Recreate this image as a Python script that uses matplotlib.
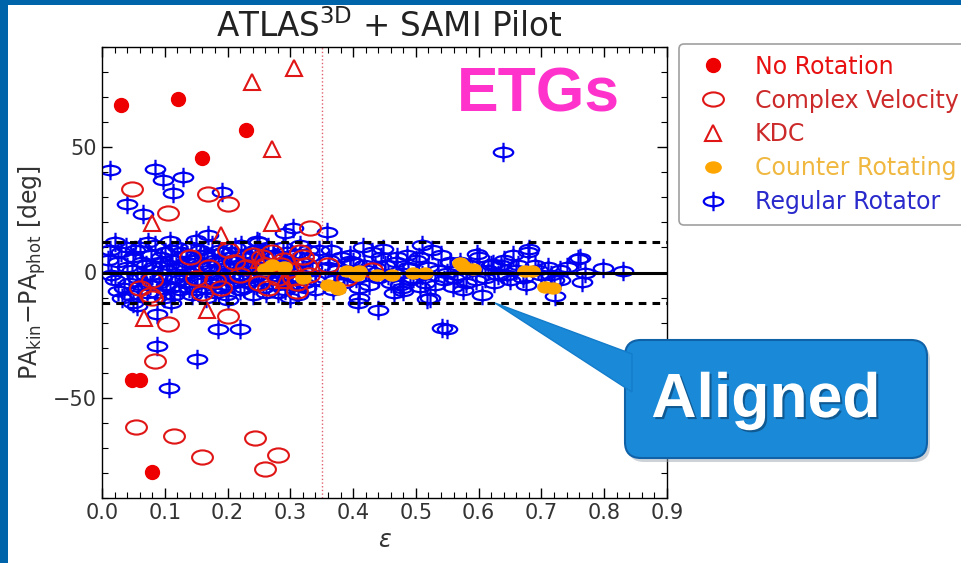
import matplotlib
matplotlib.use("Agg")
import matplotlib.pyplot as plt
import numpy as np
from matplotlib.path import Path
from matplotlib.patches import FancyBboxPatch, Polygon, Rectangle
from matplotlib.transforms import IdentityTransform
import matplotlib.patheffects as pe

# ---------------- data ----------------
norot_e = [0.030, 0.121, 0.229, 0.159, 0.047, 0.061, 0.079]
norot_d = [66.7, 69.4, 56.7, 45.6, -42.8, -43.0, -79.5]

cv_e = [0.048, 0.105, 0.169, 0.201, 0.331, 0.076, 0.084, 0.105, 0.201, 0.310,
        0.054, 0.115, 0.159, 0.243, 0.281, 0.260,
        0.08, 0.15, 0.17, 0.19, 0.21, 0.22, 0.24, 0.25, 0.26, 0.27,
        0.28, 0.29, 0.30, 0.31, 0.32, 0.33, 0.36, 0.39, 0.43, 0.08, 0.06,
        0.14, 0.18, 0.23, 0.255, 0.265, 0.285, 0.305, 0.315, 0.325, 0.20, 0.16]
cv_d = [33.4, 23.8, 31.3, 27.4, 17.9, -8.9, -35.3, -20.6, -17.2, -7.5,
        -61.8, -65.1, -73.7, -65.9, -72.8, -78.3,
        -3, -2, 2, -6, 4, -1, 7, -4, 3, 8,
        -2, 5, 1, -4, 6, -1, 3, -2, 1, -10, -6,
        6, -3, 2, 6, -6, 3, -2, 8, 3, 9, -8]

kdc_e = [0.239, 0.306, 0.270, 0.079, 0.270, 0.189, 0.067, 0.167, 0.25, 0.29]
kdc_d = [76.2, 81.7, 49.4, 19.8, 19.8, 15.0, -18.2, -14.8, 5, -3]

cr_e = [0.26, 0.27, 0.29, 0.32, 0.36, 0.374, 0.376, 0.39, 0.406, 0.41, 0.438,
        0.462, 0.496, 0.514, 0.570, 0.575, 0.591, 0.674, 0.685, 0.705, 0.718]
cr_d = [1.2, 3, 2, -2, -5, -5.6, -6.7, 0.4, -0.9, 0.4, -0.9,
        -0.9, -0.3, -0.3, 3.6, 2.4, 1.2, 0.4, 0.4, -5.6, -6.2]

# regular rotators: scattered ones
rr_out_e = [0.013, 0.084, 0.097, 0.129, 0.113, 0.040, 0.065, 0.191, 0.108, 0.169,
            0.247, 0.291, 0.304, 0.358, 0.013, 0.448, 0.510, 0.639, 0.680, 0.761,
            0.798, 0.830, 0.087, 0.152, 0.107, 0.185, 0.220, 0.549, 0.408, 0.440,
            0.517, 0.056, 0.087, 0.026, 0.480, 0.559, 0.678, 0.758, 0.721, 0.764,
            0.730, 0.395, 0.410, 0.522, 0.541, 0.486, 0.506, 0.474, 0.597, 0.623]
rr_out_d = [40.8, 41.4, 37.0, 38.0, 31.7, 27.3, 23.5, 32.1, 12.7, 15.0,
            12.7, 15.6, 17.9, 16.3, 9.1, 9.5, 11.0, 48.0, 9.5, 5.6,
            1.6, 0.4, -29.4, -34.5, -46.0, -22.6, -22.6, -22.6, -12.3, -14.8,
            -10.7, -13.5, -16.7, -7.5, -7.5, -5.6, 8.3, 5.2, -9.5, -3.6,
            -2.8, 4.4, -10.3, -10.3, -22.2, 7.1, -5.6, -4.8, 7.5, 3.2]
# regular rotators: dense band at low ellipticity
rr_lo_e = [0.01, 0.02, 0.03, 0.035, 0.04, 0.045, 0.05, 0.055, 0.06, 0.062,
           0.07, 0.072, 0.078, 0.08, 0.085, 0.09, 0.092, 0.098, 0.10, 0.104,
           0.108, 0.112, 0.116, 0.12, 0.124, 0.128, 0.132, 0.136, 0.14, 0.144,
           0.148, 0.152, 0.156, 0.16, 0.164, 0.168, 0.172, 0.176, 0.18, 0.184,
           0.188, 0.192, 0.196, 0.20, 0.204, 0.208, 0.212, 0.216, 0.22, 0.224,
           0.228, 0.232, 0.236, 0.24, 0.244, 0.248, 0.252, 0.256, 0.26, 0.265,
           0.27, 0.275, 0.28, 0.285, 0.29, 0.295, 0.30, 0.305, 0.31, 0.315,
           0.32, 0.325, 0.33, 0.34, 0.345, 0.02, 0.05, 0.11, 0.15, 0.20,
           0.25, 0.30,
           0.015, 0.025, 0.032, 0.038, 0.043, 0.048, 0.053, 0.058, 0.064, 0.068,
           0.074, 0.076, 0.082, 0.087, 0.094, 0.096, 0.102, 0.106, 0.11, 0.114,
           0.118, 0.122, 0.126, 0.13, 0.134, 0.138, 0.142, 0.146, 0.15, 0.154,
           0.158, 0.162, 0.166, 0.17, 0.174, 0.178, 0.182, 0.186, 0.19, 0.194,
           0.198, 0.202, 0.206, 0.21, 0.214, 0.218, 0.222, 0.226, 0.23, 0.234,
           0.238, 0.242, 0.246, 0.25, 0.254, 0.258, 0.262, 0.268, 0.272, 0.278,
           0.282, 0.288, 0.292, 0.298, 0.302, 0.308, 0.312, 0.318, 0.322, 0.328,
           0.335, 0.34]
rr_lo_d = [5, -3, 8, -6, 2, -9, 6, -2, 10, -5,
           3, -8, 7, -1, 11, -4, 4, -10, 8, 1,
           -6, 5, -2, 10, -7, 3, -4, 7, 0, -9,
           5, -3, 9, 2, -6, 6, -1, 11, -8, 4,
           -3, 8, 0, -5, 6, -2, 10, 3, -7, 1,
           7, -4, 4, -9, 9, -1, 5, -6, 2, 10,
           -3, 6, -8, 3, -1, 8, -5, 4, -2, 11,
           1, -6, 6, -3, 9, 12, -12, -12, 13, -11,
           12, -10,
           -1, 4, -10, 10, -4, 1, 9, -7, 4, -1,
           12, -5, 2, -8, 6, -2, -5, 3, 9, -9,
           2, -3, 8, -1, 4, -6, 10, 1, -7, 3,
           -4, 7, -10, 1, -4, 5, -2, 9, -6, 3,
           -9, 2, 8, -4, 5, -1, 11, -6, 2, -2,
           6, -5, 1, 8, -3, 4, -8, 0, 7, -5,
           2, 10, -7, 3, -2, 7, -9, 4, -4, 9,
           2, -7]
# regular rotators: dense band at high ellipticity
rr_hi_e = [0.36, 0.37, 0.38, 0.39, 0.40, 0.41, 0.42, 0.43, 0.44, 0.45,
           0.46, 0.47, 0.48, 0.49, 0.50, 0.51, 0.52, 0.53, 0.54, 0.55,
           0.56, 0.57, 0.58, 0.59, 0.60, 0.61, 0.62, 0.63, 0.64, 0.65,
           0.66, 0.67, 0.69, 0.70, 0.71, 0.72, 0.74, 0.77, 0.365, 0.415,
           0.465, 0.525, 0.575, 0.605, 0.655,
           0.355, 0.362, 0.368, 0.375, 0.385, 0.395, 0.405, 0.418, 0.425, 0.435,
           0.445, 0.455, 0.468, 0.478, 0.488, 0.495, 0.505, 0.515, 0.535, 0.545,
           0.555, 0.565, 0.585, 0.595, 0.615, 0.625, 0.635, 0.645, 0.662, 0.675,
           0.695, 0.715, 0.73]
rr_hi_d = [2, -3, 6, -1, 4, -6, 1, 8, -2, 3,
           -4, 6, 0, -3, 5, -1, 2, -5, 7, 0,
           -2, 4, -4, 1, 6, -2, 3, -1, 5, -3,
           1, -2, 3, -1, 2, -3, 2, 0, 9, 10,
           -8, 9, -7, -9, 7,
           -2, 5, -7, 1, -4, 7, -2, 3, -5, 2,
           6, -1, 4, -6, 2, -2, 6, -4, 1, -3,
           4, -1, 3, -3, 1, -4, 3, -1, 3, -5,
           1, -1, 1]

labels = ["No Rotation", "Complex Velocity", "KDC", "Counter Rotating", "Regular Rotator"]
label_colors = ["#e81010", "#cc2a2a", "#cc2a2a", "#f0b840", "#2a2acc"]

rr_e = rr_out_e + rr_lo_e + rr_hi_e
rr_d = rr_out_d + rr_lo_d + rr_hi_d

# ---------------- figure ----------------
W, H = 961, 563
fig = plt.figure(figsize=(W / 100, H / 100), dpi=100)
fig.patch.set_facecolor("white")

def fx(x):
    return x / W

def fy(y):
    return 1 - y / H

ax = fig.add_axes([fx(102), fy(498), fx(667) - fx(102), fy(47) - fy(498)])

def ellipse(h):
    c = Path.unit_circle()
    return Path(c.vertices * np.array([0.5, h]), c.codes)

rr_marker = Path.make_compound_path(
    ellipse(0.24), Path([[0, -0.5], [0, 0.5]], [Path.MOVETO, Path.LINETO]))
cv_marker = ellipse(0.34)
cr_marker = ellipse(0.36)

h_rr, = ax.plot(rr_e, rr_d, ls="none", marker=rr_marker, ms=14, mfc="none",
                mec="#0000f0", mew=1.6, zorder=2)
h_cv, = ax.plot(cv_e, cv_d, ls="none", marker=cv_marker, ms=15, mfc="none",
                mec="#e01515", mew=1.5, zorder=2.1)
h_kdc, = ax.plot(kdc_e, kdc_d, ls="none", marker="^", ms=12, mfc="none",
                 mec="#e01515", mew=1.5, zorder=2.2)
h_nr, = ax.plot(norot_e, norot_d, ls="none", marker="o", ms=10, mfc="#ee0000",
                mec="#ee0000", zorder=2.3)
h_cr, = ax.plot(cr_e, cr_d, ls="none", marker=cr_marker, ms=11, mfc="#ffa500",
                mec="#ffa500", mew=1, zorder=2.4)

ax.axhline(0, color="black", lw=2.2, zorder=4)
ax.axhline(12, color="black", lw=2.2, ls=(0, (2.5, 2)), zorder=4)
ax.axhline(-12, color="black", lw=2.2, ls=(0, (2.5, 2)), zorder=4)
ax.axvline(0.35, color="#e06070", lw=1.0, ls=":", zorder=1)

ax.set_xlim(0, 0.9)
ax.set_ylim(-90, 90)
ax.set_xticks(np.arange(0, 0.91, 0.1))
ax.set_xticklabels([f"{v:.1f}" for v in np.arange(0, 0.91, 0.1)])
ax.set_xticks(np.arange(0, 0.901, 0.02), minor=True)
ax.set_yticks([-50, 0, 50])
ax.set_yticklabels(["\u221250", "0", "50"])
ax.set_yticks(np.arange(-90, 91, 10), minor=True)
ax.tick_params(which="both", direction="in", top=True, right=True,
               labelsize=15, labelcolor="#333333")
ax.tick_params(which="major", length=7, width=1)
ax.tick_params(which="minor", length=4, width=0.8)
for s in ax.spines.values():
    s.set_linewidth(1.0)

fig.text(fx(389), fy(37), r"ATLAS$^{\rm 3D}$ + SAMI Pilot", fontsize=23.5,
         color="#222222", ha="center", va="baseline")
ax.set_xlabel(r"$\varepsilon$", fontsize=17, color="#333333")
ax.set_ylabel(r"PA$_{\rm kin}$$-$PA$_{\rm phot}$ [deg]", fontsize=17, color="#333333")

leg = fig.legend([h_nr, h_cv, h_kdc, h_cr, h_rr], labels, loc="upper left",
                 bbox_to_anchor=(fx(679), fy(44)), fontsize=17, numpoints=1,
                 handlelength=2.0, handletextpad=0.75, labelspacing=0.42,
                 borderpad=0.45, borderaxespad=0, frameon=True, fancybox=True)
leg.get_frame().set_edgecolor("#888888")
leg.get_frame().set_linewidth(1.2)
for t, c in zip(leg.get_texts(), label_colors):
    t.set_color(c)

# ETGs label
fig.text(fx(457), fy(112), "ETGs", fontsize=45, fontweight="bold",
         color="#ff33cc", family="Liberation Sans", ha="left", va="baseline")

# Aligned callout (display pixel coords)
idt = IdentityTransform()
shadow = FancyBboxPatch((628, H - 462), 302, 118, boxstyle="round,pad=0,rounding_size=16",
                        transform=idt, facecolor="#9aa6b2", edgecolor="none",
                        alpha=0.5, zorder=5)
box = FancyBboxPatch((625, H - 458), 302, 118, boxstyle="round,pad=0,rounding_size=16",
                     transform=idt, facecolor="#1a8ad8", edgecolor="#0f62a8",
                     lw=1.5, zorder=6)
wedge = Polygon([(495, H - 303), (632, H - 354), (632, H - 392)], closed=True,
                transform=idt, facecolor="#1a8ad8", edgecolor="#137ccb", lw=1,
                zorder=6.5)
for p in (shadow, box, wedge):
    fig.patches.append(p)
fig.text(766, H - 417, "Aligned", transform=idt, fontsize=45, fontweight="bold",
         color="white", family="Liberation Sans", ha="center", va="baseline",
         zorder=7, path_effects=[pe.withSimplePatchShadow(offset=(1.5, -1.5),
                                                           shadow_rgbFace="#0a3a66",
                                                           alpha=0.6)])

# slide border
fig.patches.append(Rectangle((0, 0), 8 / W, 1, transform=fig.transFigure,
                             facecolor="#0064aa", edgecolor="none", zorder=10))
fig.patches.append(Rectangle((0, fy(5)), 1, 5 / H, transform=fig.transFigure,
                             facecolor="#0064aa", edgecolor="none", zorder=10))

fig.savefig("out.png", dpi=100)
